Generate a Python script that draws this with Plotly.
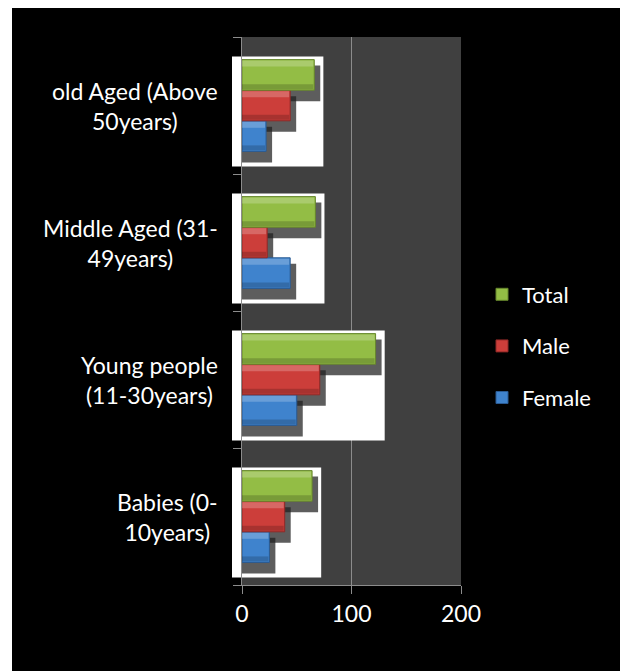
import plotly.graph_objects as go

categories = ["Babies (0-<br>10years)", "Young people<br>(11-30years)",
              "Middle Aged (31-<br>49years)", "old Aged (Above<br>50years)"]
female = [25, 50, 44, 22]
male = [39, 71, 23, 44]
total = [64, 122, 67, 66]
series_names = ["Female", "Male", "Total"]
series_vals = [female, male, total]
legend_ranks = [3, 2, 1]
colors = ["#3F83CD", "#CC3E3A", "#93BD45"]
line_colors = ["#2A5A92", "#8E2826", "#66862C"]
x_ticks = [0, 100, 200]

W, H = 620, 671
ml, mr, mt, mb = 242, 159, 37, 86
pw, ph = W - ml - mr, H - mt - mb
xmax = 200
ux = xmax / pw            # data units per pixel (x)
uy = 4 / ph               # category units per pixel (y)
bargap = 0.33
bw = (1 - bargap) / 3
FONT = "Lato"
FS = 23

fig = go.Figure()
for k, (name, vals) in enumerate(zip(series_names, series_vals)):
    fig.add_trace(go.Bar(
        y=list(range(len(categories))), x=vals, name=name, orientation="h",
        marker=dict(color=colors[k], line=dict(color=line_colors[k], width=1)),
        legendgroup=name, legendrank=legend_ranks[k],
    ))

shapes = []
# white panels behind each group
for i, t in enumerate(total):
    top = i - (1 - bargap) / 2 + 3 * bw + 3 * uy
    bot = i - (1 - bargap) / 2 - 15 * uy
    shapes.append(dict(type="rect", xref="x", yref="y", x0=-20, x1=t + 8 * ux + 1,
                       y0=bot, y1=top, fillcolor="white", line_width=0, layer="between"))
    shapes.append(dict(type="rect", xref="paper", yref="paper",
                       x0=-10 / pw, x1=0, y0=(bot + 0.5) / 4, y1=(top + 0.5) / 4,
                       fillcolor="white", line_width=0, layer="below"))
# shadows
for k, vals in enumerate(series_vals):
    for i, v in enumerate(vals):
        b0 = i - (1 - bargap) / 2 + k * bw
        shapes.append(dict(type="rect", xref="x", yref="y", x0=-20, x1=v + 6 * ux,
                           y0=b0 - 11 * uy, y1=b0 + bw - 6 * uy,
                           fillcolor="rgba(30,30,30,0.72)", line_width=0, layer="between"))
# bevel highlights on top of bars
for k, vals in enumerate(series_vals):
    for i, v in enumerate(vals):
        b0 = i - (1 - bargap) / 2 + k * bw
        b1 = b0 + bw
        shapes.append(dict(type="rect", xref="x", yref="y", x0=0, x1=v - 1 * ux,
                           y0=b1 - 7 * uy, y1=b1 - 1 * uy,
                           fillcolor="rgba(255,255,255,0.22)", line_width=0, layer="above"))
        shapes.append(dict(type="rect", xref="x", yref="y", x0=0, x1=v - 1 * ux,
                           y0=b0 + 1 * uy, y1=b0 + 6 * uy,
                           fillcolor="rgba(0,0,0,0.18)", line_width=0, layer="above"))
# white strips around the black background
shapes.append(dict(type="rect", xref="paper", yref="paper", x0=-ml / pw, x1=(12 - ml) / pw,
                   y0=-mb / ph, y1=(H - mb) / ph, fillcolor="white", line_width=0, layer="below"))
shapes.append(dict(type="rect", xref="paper", yref="paper", x0=-ml / pw, x1=(W - ml) / pw,
                   y0=(H - mb - 8) / ph, y1=(H - mb) / ph, fillcolor="white", line_width=0, layer="below"))

annotations = []
for i, c in enumerate(categories):
    annotations.append(dict(text=c, xref="paper", yref="y", x=(220 - ml) / pw, y=i,
                            xanchor="right", yanchor="middle", align="center", showarrow=False,
                            font=dict(family=FONT, size=FS, color="white")))

fig.update_layout(
    width=W, height=H, margin=dict(l=ml, r=mr, t=mt, b=mb),
    paper_bgcolor="black", plot_bgcolor="#404040",
    barmode="group", bargap=bargap,
    shapes=shapes, annotations=annotations,
    font=dict(family=FONT, size=FS, color="white"),
    legend=dict(x=(482 - ml) / pw, y=(585 - 346) / ph, xanchor="left", yanchor="middle",
                traceorder="grouped", tracegroupgap=20,
                bgcolor="rgba(0,0,0,0)", font=dict(family=FONT, size=22, color="white")),
    xaxis=dict(range=[0, xmax], tickvals=x_ticks, showgrid=True, gridcolor="#8C8C8C", gridwidth=1,
               zeroline=False, showline=True, linecolor="#8C8C8C", linewidth=1,
               ticks="outside", ticklen=8, tickcolor="#8C8C8C",
               tickfont=dict(family=FONT, size=FS, color="white"), fixedrange=True),
    yaxis=dict(range=[-0.5, 3.5], tickvals=[-0.5, 0.5, 1.5, 2.5, 3.5], showticklabels=False,
               showgrid=False, zeroline=False, showline=True, linecolor="#8C8C8C", linewidth=1,
               ticks="outside", ticklen=8, tickcolor="#8C8C8C", fixedrange=True),
    showlegend=True,
)

fig.write_html("out.html")
